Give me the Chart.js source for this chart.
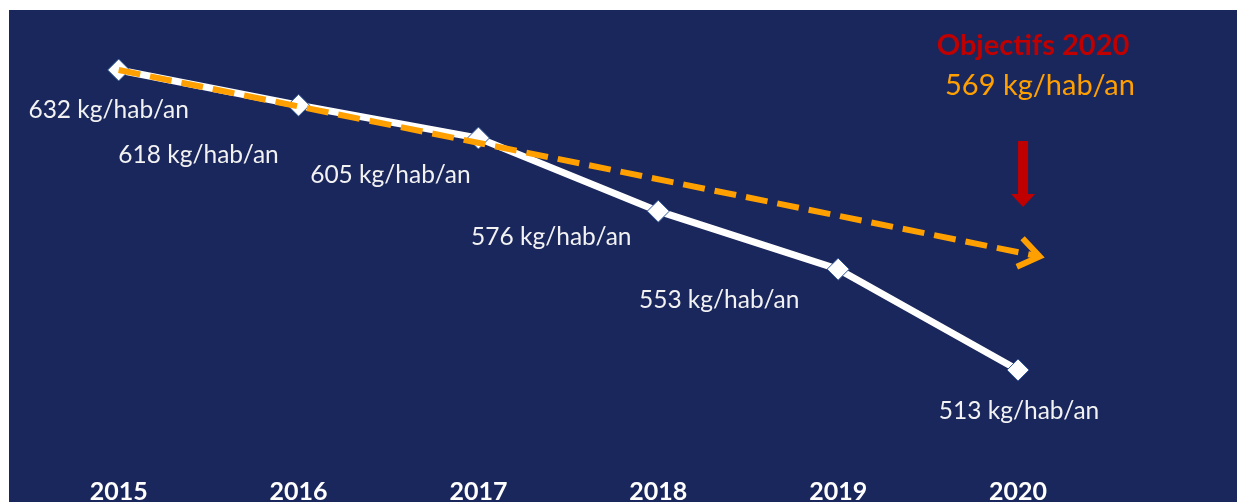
<!DOCTYPE html>
<html lang="fr">
<head>
<meta charset="utf-8">
<title>Production de déchets – kg/hab/an</title>
<script src="https://cdn.jsdelivr.net/npm/chart.js@4"></script>
<style>
  html, body { margin: 0; padding: 0; background: #ffffff; overflow: hidden; }
  #wrap { position: absolute; left: 0; top: 0; width: 1247px; height: 520px; }
  #panel { position: absolute; left: 9px; top: 10px; width: 1228px; height: 510px; background: #1a275c; }
</style>
</head>
<body>
<div id="panel"></div>
<div id="wrap"><canvas id="c"></canvas></div>
<script>
// production de déchets par habitant, 2015-2020
const YEARS = [2015, 2016, 2017, 2018, 2019, 2020];
const VALUES = [632, 618, 605, 576, 553, 513];
// tendance vers l'objectif (début et bout de la flèche)
const TREND_X = [2015, 2020.12];
const TREND_Y = [632, 558];
const UNIT = 'kg/hab/an';
const GOAL_TITLE = 'Objectifs 2020';
const GOAL_VALUE = 569;

const WHITE = '#ffffff';
const ORANGE = '#ffa000';
const RED = '#c00000';
const MARKER_BORDER = '#2f5597';
const FONT = 'Lato, "Open Sans", sans-serif';

// décalages des étiquettes par rapport au point (px)
const labelOffsets = [[-10, 40], [-100, 50], [-88, 37], [-107, 26], [-119, 31], [1, 41]];

const valueLabels = {
  id: 'valueLabels',
  afterDatasetsDraw(chart) {
    const { ctx } = chart;
    const meta = chart.getDatasetMeta(1);
    ctx.save();
    ctx.font = `24.5px ${FONT}`;
    ctx.fillStyle = '#f2f2f2';
    ctx.textAlign = 'center';
    ctx.textBaseline = 'middle';
    meta.data.forEach((pt, i) => {
      const [dx, dy] = labelOffsets[i];
      ctx.fillText(`${VALUES[i]} ${UNIT}`, pt.x + dx, pt.y + dy);
    });
    ctx.restore();
  }
};

// bout de flèche ouvert au bout de la tendance + objectif
const goalDecor = {
  id: 'goalDecor',
  afterDatasetsDraw(chart) {
    const { ctx, scales: { x, y } } = chart;
    const x0 = x.getPixelForValue(TREND_X[0]), y0 = y.getPixelForValue(TREND_Y[0]);
    const x1 = x.getPixelForValue(TREND_X[1]), y1 = y.getPixelForValue(TREND_Y[1]);
    const ang = Math.atan2(y1 - y0, x1 - x0);
    const L = 25;
    ctx.save();
    ctx.strokeStyle = ORANGE;
    ctx.lineWidth = 6;
    ctx.lineJoin = 'miter';
    ctx.beginPath();
    ctx.moveTo(x1 - L * Math.cos(ang - 0.62), y1 - L * Math.sin(ang - 0.62));
    ctx.lineTo(x1, y1);
    ctx.lineTo(x1 - L * Math.cos(ang + 0.62), y1 - L * Math.sin(ang + 0.62));
    ctx.stroke();

    // flèche rouge verticale au-dessus de 2020
    const gx = x.getPixelForValue(2020) + 5;
    ctx.fillStyle = RED;
    ctx.fillRect(gx - 5, 141, 10, 56);
    ctx.beginPath();
    ctx.moveTo(gx - 12, 194);
    ctx.lineTo(gx + 12, 194);
    ctx.lineTo(gx, 207);
    ctx.closePath();
    ctx.fill();

    ctx.textAlign = 'center';
    ctx.textBaseline = 'middle';
    ctx.font = `bold 29px ${FONT}`;
    ctx.fillStyle = RED;
    ctx.fillText(GOAL_TITLE, 1033, 46);
    ctx.font = `29px ${FONT}`;
    ctx.fillStyle = ORANGE;
    ctx.fillText(`${GOAL_VALUE} ${UNIT}`, 1040, 86);
    ctx.restore();
  }
};

new Chart(document.getElementById('c'), {
  type: 'line',
  data: {
    datasets: [
      {
        label: 'Objectif',
        data: TREND_X.map((v, i) => ({ x: v, y: TREND_Y[i] })),
        borderColor: ORANGE,
        borderWidth: 6,
        borderDash: [22, 10],
        pointRadius: 0,
        order: 0
      },
      {
        label: 'Réalisé',
        data: YEARS.map((v, i) => ({ x: v, y: VALUES[i] })),
        borderColor: WHITE,
        borderWidth: 7,
        pointStyle: 'rectRot',
        pointRadius: 11,
        pointBackgroundColor: WHITE,
        pointBorderColor: MARKER_BORDER,
        pointBorderWidth: 1,
        tension: 0,
        order: 1
      }
    ]
  },
  options: {
    responsive: true,
    maintainAspectRatio: false,
    animation: false,
    layout: { padding: { top: 24.6, bottom: 0, left: 0, right: 0 } },
    plugins: { legend: { display: false }, tooltip: { enabled: false } },
    scales: {
      x: {
        type: 'linear',
        min: 2014.407,
        max: 2021.206,
        grid: { display: false, drawTicks: false },
        border: { display: false },
        afterFit: s => { s.height = 66.8; },
        afterBuildTicks: s => { s.ticks = YEARS.map(v => ({ value: v })); },
        ticks: {
          color: WHITE,
          padding: 24,
          font: { family: FONT, size: 25, weight: 'bold' },
          callback: v => String(v)
        }
      },
      y: {
        display: false,
        min: 480,
        max: 650
      }
    }
  },
  plugins: [valueLabels, goalDecor]
});
</script>
</body>
</html>
